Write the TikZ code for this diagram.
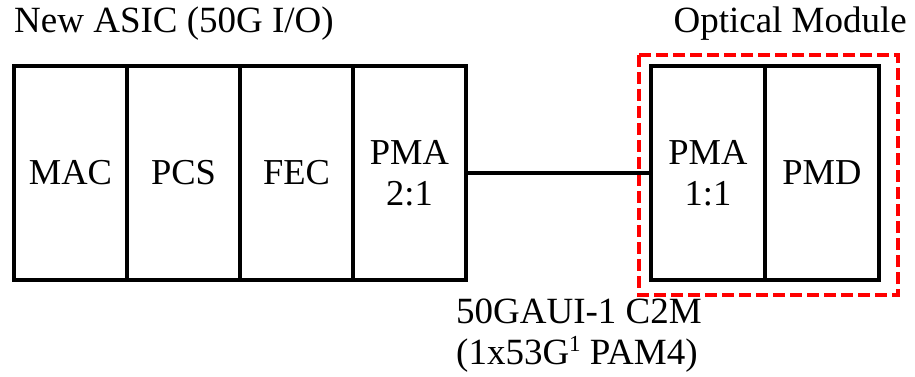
\documentclass[tikz,border=0pt]{standalone}
\usepackage{fontspec}
\setmainfont{Liberation Serif}
\usetikzlibrary{positioning,calc}
\definecolor{omvermelho}{HTML}{FF0000}
\tikzset{
  ombloco/.style={draw=black, line width=4pt, outer sep=0pt, inner sep=0pt, align=center,
                  minimum width=113pt, minimum height=214pt, font=\fontsize{36.5}{41}\selectfont},
  omligacao/.style={draw=black, line width=4pt},
  omfronteira/.style={draw=omvermelho, line width=4pt, dash pattern=on 12pt off 5pt},
  omrotulo/.style={font=\fontsize{37}{41}\selectfont, inner sep=0pt, align=left},
}
\begin{document}
\begin{tikzpicture}[x=1pt, y=-1pt]
    \useasboundingbox (0,0) rectangle (915,377);
    % ASIC
    \node[omrotulo, anchor=base west] (asic) at (14,33) {New ASIC (50G I/O)};
    \node[ombloco] (mac) at (70.5,173) {MAC};
    \node[ombloco, right=0pt of mac] (pcs) {PCS};
    \node[ombloco, right=0pt of pcs] (fec) {FEC};
    \node[ombloco, right=0pt of fec] (pma21) {PMA\\2:1};
    % modulo optico
    \node[ombloco, minimum width=114pt, right=185pt of pma21] (pma11) {PMA\\1:1};
    \node[ombloco, minimum width=114pt, right=0pt of pma11] (pmd) {PMD};
    \draw[omfronteira] ($(pma11.north west)+(-12,-11)$) rectangle ($(pmd.south east)+(19,15)$);
    \node[omrotulo, anchor=base east] (modulo) at (907,33) {Optical Module};
    % interface
    \draw[omligacao] (pma21.east) -- (pma11.west);
    \node[omrotulo, anchor=north west] (gaui) at (456,299) {50GAUI-1 C2M\\(1x53G\raisebox{13pt}{\fontsize{23}{23}\selectfont 1} PAM4)};
\end{tikzpicture}
\end{document}
